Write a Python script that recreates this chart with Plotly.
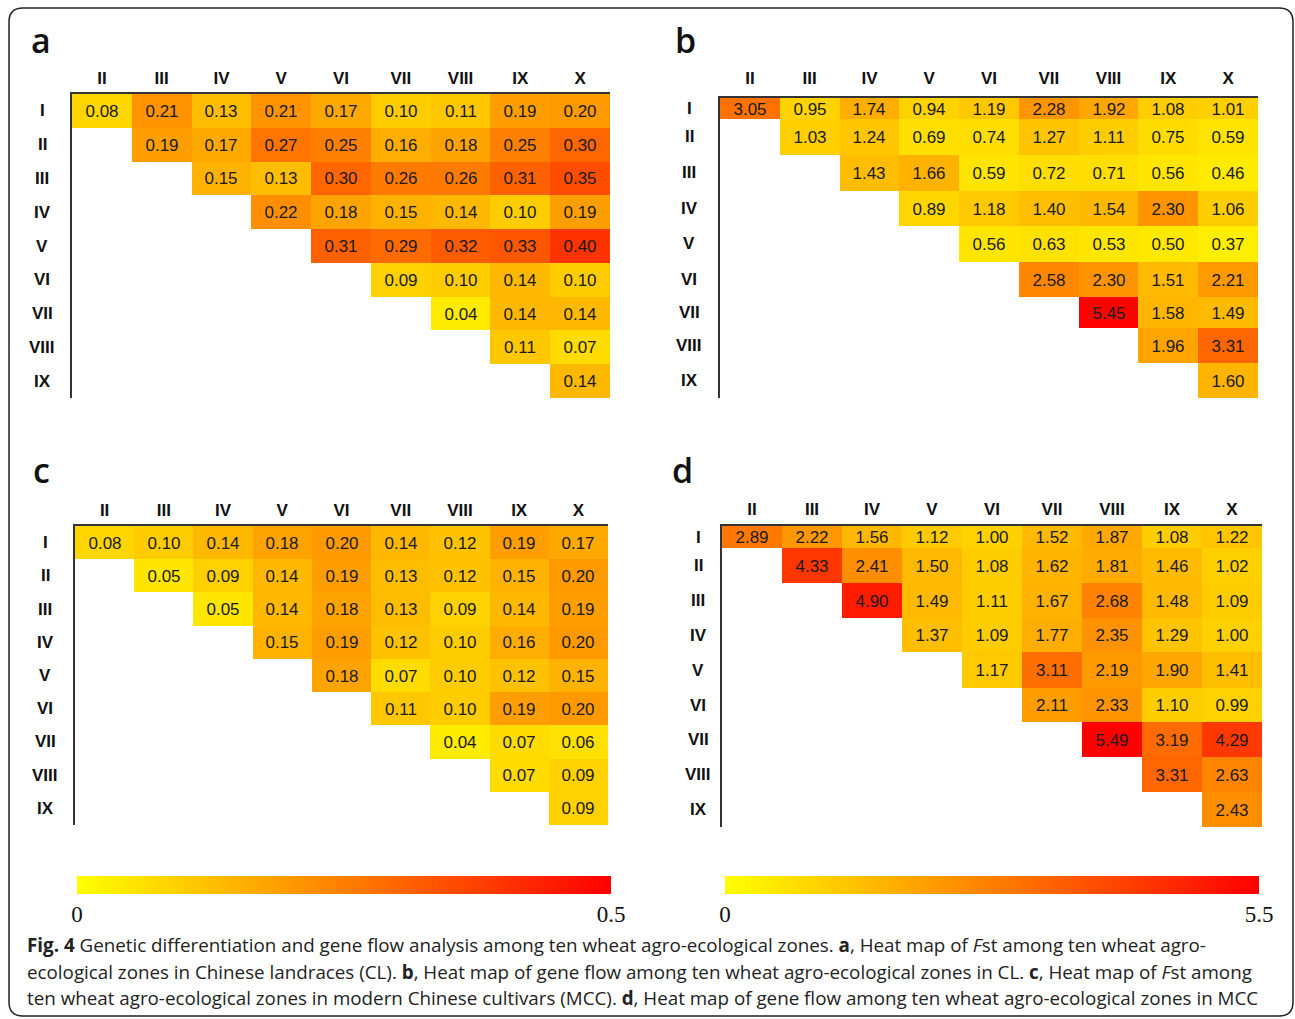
import plotly.graph_objects as go

W, H = 1295, 1019

# ---------------- data ----------------
col_labels = ["II", "III", "IV", "V", "VI", "VII", "VIII", "IX", "X"]
row_labels = ["I", "II", "III", "IV", "V", "VI", "VII", "VIII", "IX"]

fst_cl = [
    [0.08, 0.21, 0.13, 0.21, 0.17, 0.10, 0.11, 0.19, 0.20],
    [0.19, 0.17, 0.27, 0.25, 0.16, 0.18, 0.25, 0.30],
    [0.15, 0.13, 0.30, 0.26, 0.26, 0.31, 0.35],
    [0.22, 0.18, 0.15, 0.14, 0.10, 0.19],
    [0.31, 0.29, 0.32, 0.33, 0.40],
    [0.09, 0.10, 0.14, 0.10],
    [0.04, 0.14, 0.14],
    [0.11, 0.07],
    [0.14],
]
nm_cl = [
    [3.05, 0.95, 1.74, 0.94, 1.19, 2.28, 1.92, 1.08, 1.01],
    [1.03, 1.24, 0.69, 0.74, 1.27, 1.11, 0.75, 0.59],
    [1.43, 1.66, 0.59, 0.72, 0.71, 0.56, 0.46],
    [0.89, 1.18, 1.40, 1.54, 2.30, 1.06],
    [0.56, 0.63, 0.53, 0.50, 0.37],
    [2.58, 2.30, 1.51, 2.21],
    [5.45, 1.58, 1.49],
    [1.96, 3.31],
    [1.60],
]
fst_mcc = [
    [0.08, 0.10, 0.14, 0.18, 0.20, 0.14, 0.12, 0.19, 0.17],
    [0.05, 0.09, 0.14, 0.19, 0.13, 0.12, 0.15, 0.20],
    [0.05, 0.14, 0.18, 0.13, 0.09, 0.14, 0.19],
    [0.15, 0.19, 0.12, 0.10, 0.16, 0.20],
    [0.18, 0.07, 0.10, 0.12, 0.15],
    [0.11, 0.10, 0.19, 0.20],
    [0.04, 0.07, 0.06],
    [0.07, 0.09],
    [0.09],
]
nm_mcc = [
    [2.89, 2.22, 1.56, 1.12, 1.00, 1.52, 1.87, 1.08, 1.22],
    [4.33, 2.41, 1.50, 1.08, 1.62, 1.81, 1.46, 1.02],
    [4.90, 1.49, 1.11, 1.67, 2.68, 1.48, 1.09],
    [1.37, 1.09, 1.77, 2.35, 1.29, 1.00],
    [1.17, 3.11, 2.19, 1.90, 1.41],
    [2.11, 2.33, 1.10, 0.99],
    [5.49, 3.19, 4.29],
    [3.31, 2.63],
    [2.43],
]

fst_range = [0, 0.5]
nm_range = [0, 5.5]

caption_lines = [
    "<b>Fig. 4</b> Genetic differentiation and gene flow analysis among ten wheat agro-ecological zones. <b>a</b>, Heat map of <i>F</i>st among ten wheat agro-",
    "ecological zones in Chinese landraces (CL). <b>b</b>, Heat map of gene flow among ten wheat agro-ecological zones in CL. <b>c</b>, Heat map of <i>F</i>st among",
    "ten wheat agro-ecological zones in modern Chinese cultivars (MCC). <b>d</b>, Heat map of gene flow among ten wheat agro-ecological zones in MCC",
]

# ---------------- layout constants ----------------
def px(x):
    return x / W

def py(y):
    return 1 - y / H

panels = [
    dict(data=fst_cl, ca="coloraxis", box=(72, 610, 94, 398), rows=[1] * 9, rowlab_x=42,
         letter="a", lpos=(41, 40), standoff=1),
    dict(data=nm_cl, ca="coloraxis2", box=(720, 1258, 98, 398), rows=[21, 36, 36, 35, 36, 35, 31, 35, 35],
         rowlab_x=689, letter="b", lpos=(685, 40), standoff=5),
    dict(data=fst_mcc, ca="coloraxis", box=(75, 608, 526, 825), rows=[1] * 9, rowlab_x=45,
         letter="c", lpos=(41, 470), standoff=1),
    dict(data=nm_mcc, ca="coloraxis2", box=(722, 1262, 526, 827), rows=[22, 35, 35, 34, 36, 34, 35, 35, 35],
         rowlab_x=698, letter="d", lpos=(682, 470), standoff=2),
]

colorscale = [[0, "#FFFF00"], [1, "#FF0000"]]
cell_font = dict(family="Liberation Sans, Arial", size=17, color="#1a1a1a")
lab_font = dict(family="Liberation Sans, Arial", size=17, color="#111", weight="bold")

fig = go.Figure()
annotations = []
layout = {}

for i, p in enumerate(panels, start=1):
    n = len(col_labels)
    z, txt = [], []
    for r, vals in enumerate(p["data"]):
        row = [None] * r + list(vals)
        z.append(row)
        txt.append(["" if v is None else f"{v:.2f}" for v in row])
    edges = [0]
    for h in p["rows"]:
        edges.append(edges[-1] + h)
    xa = "x" if i == 1 else f"x{i}"
    ya = "y" if i == 1 else f"y{i}"
    fig.add_trace(go.Heatmap(
        z=z, x=col_labels, y=edges, text=txt, texttemplate="%{text}",
        textfont=cell_font, coloraxis=p["ca"], xaxis=xa, yaxis=ya,
        hoverinfo="skip", xgap=0, ygap=0,
    ))
    l, r_, t, b = p["box"]
    xkey = "xaxis" if i == 1 else f"xaxis{i}"
    ykey = "yaxis" if i == 1 else f"yaxis{i}"
    layout[xkey] = dict(
        domain=[px(l), px(r_)], anchor=ya, side="top", type="category",
        range=[-0.5, n - 0.5], showgrid=False, zeroline=False,
        showline=True, linecolor="#333", linewidth=1.5, ticks="",
        tickfont=lab_font, ticklabelstandoff=p["standoff"], fixedrange=True,
    )
    layout[ykey] = dict(
        domain=[py(b), py(t)], anchor=xa, range=[edges[-1], edges[0]],
        showgrid=False, zeroline=False, showline=True, linecolor="#333",
        linewidth=1.5, showticklabels=False, ticks="", fixedrange=True,
    )
    for k, lab in enumerate(row_labels):
        annotations.append(dict(
            text=lab, xref="paper", yref=ya,
            x=px(p["rowlab_x"]), y=(edges[k] + edges[k + 1]) / 2,
            xanchor="center", yanchor="middle", showarrow=False, font=lab_font,
        ))
    annotations.append(dict(
        text=p["letter"], xref="paper", yref="paper",
        x=px(p["lpos"][0]), y=py(p["lpos"][1]), xanchor="center", yanchor="middle",
        showarrow=False, font=dict(family="Open Sans, Noto Sans", size=34, color="#111", weight=600),
    ))

# caption
for k, line in enumerate(caption_lines):
    annotations.append(dict(
        text=line, xref="paper", yref="paper", x=px(25), y=py(945 + k * 26.5),
        xanchor="left", yanchor="middle", showarrow=False,
        font=dict(family="Open Sans, Noto Sans", size=18.8, color="#222"),
    ))

tick_font = dict(family="Liberation Serif, Times New Roman", size=23, color="#111")

def cbar(cx, rng):
    return dict(
        orientation="h", x=px(cx), xanchor="center", y=py(876), yanchor="top",
        len=534, lenmode="pixels", thickness=18, thicknessmode="pixels",
        xpad=0, ypad=0, outlinewidth=0, ticks="",
        tickvals=rng, ticktext=[f"{v:g}" for v in rng], tickfont=tick_font,
    )

layout["coloraxis"] = dict(cmin=fst_range[0], cmax=fst_range[1], colorscale=colorscale,
                           colorbar=cbar(344, fst_range))
layout["coloraxis2"] = dict(cmin=nm_range[0], cmax=nm_range[1], colorscale=colorscale,
                            colorbar=cbar(992, nm_range))

# rounded frame
x0, y0, x1, y1, rr = 9, 8, 1293, 1016, 14
def P(x, y):
    return f"{px(x):.6f},{py(y):.6f}"
path = (f"M {P(x0 + rr, y0)} L {P(x1 - rr, y0)} Q {P(x1, y0)} {P(x1, y0 + rr)} "
        f"L {P(x1, y1 - rr)} Q {P(x1, y1)} {P(x1 - rr, y1)} "
        f"L {P(x0 + rr, y1)} Q {P(x0, y1)} {P(x0, y1 - rr)} "
        f"L {P(x0, y0 + rr)} Q {P(x0, y0)} {P(x0 + rr, y0)} Z")

fig.update_layout(
    width=W, height=H, margin=dict(l=0, r=0, t=0, b=0),
    paper_bgcolor="white", plot_bgcolor="white", showlegend=False,
    annotations=annotations,
    shapes=[dict(type="path", path=path, xref="paper", yref="paper",
                 line=dict(color="#222", width=1.5), layer="above")],
    **layout,
)

fig.write_html("out.html", config={"displayModeBar": False})
